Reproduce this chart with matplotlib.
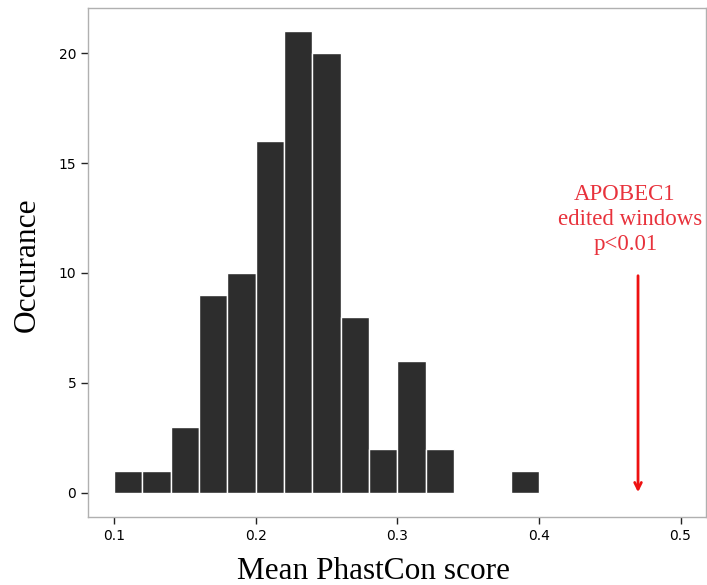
import matplotlib
matplotlib.use("Agg")
import matplotlib.pyplot as plt
import numpy as np

bin_edges = [0.10, 0.12, 0.14, 0.16, 0.18, 0.20, 0.22, 0.24, 0.26, 0.28, 0.30, 0.32, 0.34, 0.36, 0.38, 0.40]
counts = [1, 1, 3, 9, 10, 16, 21, 20, 8, 2, 6, 2, 0, 0, 1]
xticks = [0.1, 0.2, 0.3, 0.4, 0.5]
yticks = [0, 5, 10, 15, 20]
arrow_x = 0.47
arrow_top = 10
annot_lines = ["APOBEC1", "edited windows", "p<0.01"]
annot_x = [0.4604, 0.4647, 0.4611]
annot_y = [13.32, 12.18, 11.05]

fig = plt.figure(figsize=(7.07, 5.85), dpi=100)
ax = fig.add_axes([88/707, 68/585, 618/707, 509/585])

lefts = np.array(bin_edges[:-1])
widths = np.diff(bin_edges)
ax.bar(lefts, counts, width=widths, align='edge', color='#2d2d2d', edgecolor='white', linewidth=1.0)

ax.set_xlim(0.0816, 0.518)
ax.set_ylim(-1.1, 22.05)
ax.set_xticks(xticks)
ax.set_xticklabels([str(v) for v in xticks])
ax.set_yticks(yticks)
for s in ax.spines.values():
    s.set_color('#b0b0b0')
    s.set_linewidth(1.0)
ax.tick_params(axis='both', colors='#222222', labelsize=10, length=5, width=1, direction='out', labelcolor='black')

fig.text(374/707, 1 - 579/585, "Mean PhastCon score", family='Liberation Serif', fontsize=22.5,
         ha='center', va='baseline')
fig.text(27/707, 1 - 265/585, "Occurance", family='Liberation Serif', fontsize=22.7,
         ha='center', va='center', rotation=90)

for t, x, y in zip(annot_lines, annot_x, annot_y):
    ax.text(x, y, t, color='#e8323c', family='Liberation Serif', fontsize=16.5, ha='center', va='baseline')

ax.annotate("", xy=(arrow_x, -0.1), xytext=(arrow_x, arrow_top),
            arrowprops=dict(arrowstyle='->', color='#ee1111', lw=2, mutation_scale=12))

fig.savefig("out.png", dpi=100)
